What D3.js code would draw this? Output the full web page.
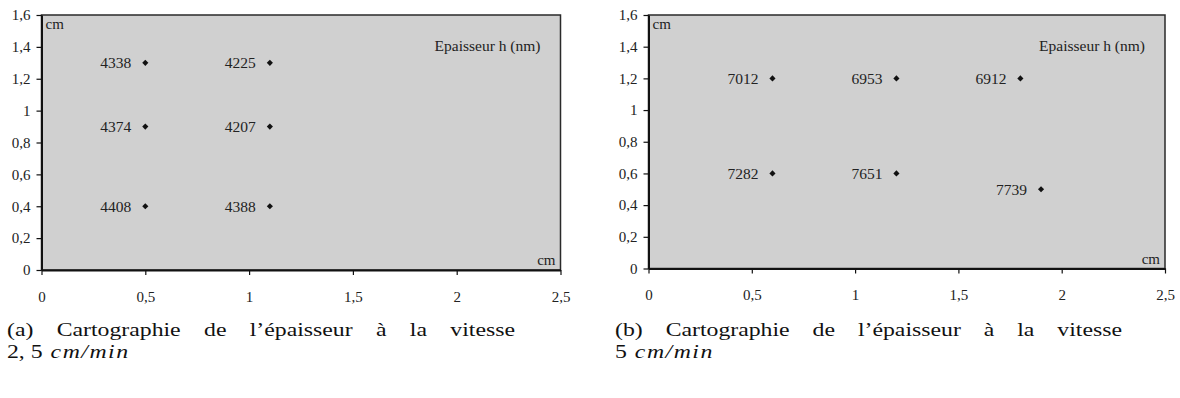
<!DOCTYPE html>
<html>
<head>
<meta charset="utf-8">
<script src="https://cdn.jsdelivr.net/npm/d3@7"></script>
<style>
  html, body { margin: 0; padding: 0; background: #fff; }
  svg { display: block; }
  .pf { font-family: "Liberation Serif", "Times New Roman", Times, serif; }
  .cf { font-family: "Liberation Serif", "Times New Roman", Times, serif; }
</style>
</head>
<body>
<svg id="chart" width="1180" height="398"></svg>
<script>
// Axis ticks shared by both maps (cm)
const xTicks = [0, 0.5, 1, 1.5, 2, 2.5];
const yTicks = [0, 0.2, 0.4, 0.6, 0.8, 1, 1.2, 1.4, 1.6];

// Map (a): measurement positions (cm) and thickness h (nm) at 2,5 cm/min
const posAx = [0.5, 1.1, 0.5, 1.1, 0.5, 1.1];
const posAy = [1.3, 1.3, 0.9, 0.9, 0.4, 0.4];
const thickA = [4338, 4225, 4374, 4207, 4408, 4388];

// Map (b): measurement positions (cm) and thickness h (nm) at 5 cm/min
const posBx = [0.6, 1.2, 1.8, 0.6, 1.2, 1.9];
const posBy = [1.2, 1.2, 1.2, 0.6, 0.6, 0.5];
const thickB = [7012, 6953, 6912, 7282, 7651, 7739];

// Captions
const captionA = ["(a)", "Cartographie", "de", "l’épaisseur", "à", "la", "vitesse"];
const captionB = ["(b)", "Cartographie", "de", "l’épaisseur", "à", "la", "vitesse"];
const speedA = "2, 5";
const speedB = "5";
const speedUnit = "cm/min";
const legendTitle = "Epaisseur h (nm)";
const unitLabel = "cm";

const svg = d3.select("#chart");
const fr = d3.formatLocale({decimal: ",", thousands: " ", grouping: [3], currency: ["", " €"]});
const tickFmt = fr.format("~g");

function drawMap(box, xs, ys, hs) {
  const x = d3.scaleLinear().domain([0, 2.5]).range([box.left, box.right]);
  const y = d3.scaleLinear().domain([0, 1.6]).range([box.bottom, box.top]);
  const g = svg.append("g").attr("class", "pf");

  // plot area
  g.append("rect")
    .attr("x", box.left).attr("y", box.top)
    .attr("width", box.right - box.left).attr("height", box.bottom - box.top)
    .attr("fill", "#d0d0d0")
    .attr("stroke", "#2a2a2a").attr("stroke-width", 1.5);

  // axes
  const xAxis = d3.axisBottom(x).tickValues(xTicks).tickFormat(tickFmt)
    .tickSize(5).tickSizeOuter(0).tickPadding(16);
  const yAxis = d3.axisLeft(y).tickValues(yTicks).tickFormat(tickFmt)
    .tickSize(5).tickSizeOuter(0).tickPadding(6);

  const gx = g.append("g").attr("transform", `translate(0,${box.bottom})`).call(xAxis);
  const gy = g.append("g").attr("transform", `translate(${box.left},0)`).call(yAxis);
  [gx, gy].forEach(a => {
    a.attr("font-family", null).attr("font-size", null);
    a.select(".domain").attr("stroke", "#111").attr("stroke-width", 2);
    a.selectAll(".tick line").attr("stroke", "#111").attr("stroke-width", 1.2);
    a.selectAll(".tick text").attr("fill", "#222").attr("class", "pf")
      .style("font-size", "15px");
  });

  // unit labels
  g.append("text").attr("class", "pf").attr("x", box.left + 4).attr("y", box.top + 14)
    .attr("fill", "#222").style("font-size", "15px")
    .text(unitLabel);
  g.append("text").attr("class", "pf").attr("x", box.right - 5).attr("y", box.bottom - 5)
    .attr("text-anchor", "end")
    .attr("fill", "#222").style("font-size", "15px")
    .text(unitLabel);
  g.append("text").attr("class", "pf").attr("x", box.right - 20).attr("y", box.top + 36)
    .attr("text-anchor", "end")
    .attr("fill", "#222").style("font-size", "15.5px")
    .text(legendTitle);

  // points
  const pts = xs.map((v, i) => ({x: v, y: ys[i], h: hs[i]}));
  g.selectAll(".pt").data(pts).join("path")
    .attr("class", "pt")
    .attr("transform", d => `translate(${x(d.x)},${y(d.y)})`)
    .attr("d", d3.symbol(d3.symbolDiamond2, 24)())
    .attr("fill", "#111");

  g.selectAll(".val").data(pts).join("text")
    .attr("class", "val pf")
    .attr("x", d => x(d.x) - 14).attr("y", d => y(d.y))
    .attr("dy", "0.35em")
    .attr("text-anchor", "end")
    .attr("fill", "#222").style("font-size", "15.5px")
    .text(d => d.h);
}

drawMap({left: 41.5, right: 560.5, top: 15, bottom: 270}, posAx, posAy, thickA);
drawMap({left: 648.5, right: 1165, top: 15, bottom: 268.5}, posBx, posBy, thickB);

// caption text is set slightly wide, like a book face
const capScale = 1.25;
function capText(g, str, px, py, italic) {
  const t = g.append("text").attr("class", "cf")
    .attr("transform", `translate(${px},${py}) scale(${capScale},1)`)
    .text(str);
  if (italic) t.style("font-style", "italic").style("letter-spacing", "1.2px");
  return t;
}

// justified caption line + second line with italic unit
function drawCaption(words, x0, x1, yBase, speed) {
  const g = svg.append("g").attr("class", "cf")
    .style("font-size", "19px").attr("fill", "#111");
  const nodes = words.map(w => capText(g, w, 0, yBase, false));
  const widths = nodes.map(n => n.node().getComputedTextLength() * capScale);
  const gap = (x1 - x0 - d3.sum(widths)) / (words.length - 1);
  let cx = x0;
  nodes.forEach((n, i) => {
    n.attr("transform", `translate(${cx},${yBase}) scale(${capScale},1)`);
    cx += widths[i] + gap;
  });

  const sp = capText(g, speed, x0, yBase + 22, false);
  const spW = sp.node().getComputedTextLength() * capScale;
  capText(g, speedUnit, x0 + spW + 8, yBase + 22, true);
}

drawCaption(captionA, 7, 515, 336, speedA);
drawCaption(captionB, 615, 1122, 336, speedB);
</script>
</body>
</html>
